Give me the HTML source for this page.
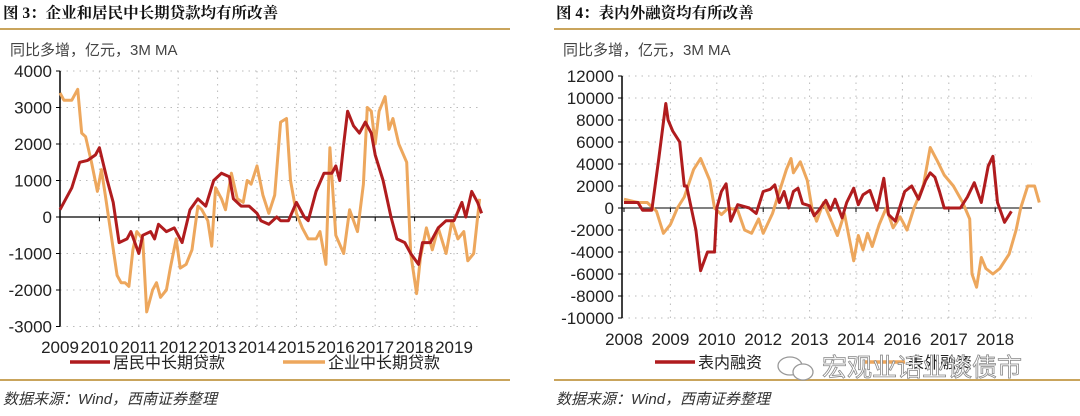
<!DOCTYPE html>
<html><head><meta charset="utf-8"><style>
html,body{margin:0;padding:0;background:#fff;width:1080px;height:416px;overflow:hidden}
svg{display:block;font-family:"Liberation Sans","Noto Sans CJK SC",sans-serif}
</style></head><body>
<svg id="c" width="1080" height="416" viewBox="0 0 1080 416"></svg>
<script>
// ---- Left chart data (图3) ----
const leftYears=["2009","2010","2011","2012","2013","2014","2015","2016","2017","2018","2019"];
const leftTicks=[4000,3000,2000,1000,0,-1000,-2000,-3000];
const hhT=[2009.0,2009.3,2009.5,2009.7,2009.9,2010.0,2010.2,2010.35,2010.5,2010.7,2010.8,2011.0,2011.1,2011.3,2011.4,2011.5,2011.7,2011.9,2012.1,2012.3,2012.5,2012.7,2012.9,2013.1,2013.3,2013.4,2013.6,2013.8,2014.0,2014.1,2014.3,2014.5,2014.6,2014.8,2015.0,2015.2,2015.3,2015.5,2015.7,2015.9,2016.0,2016.1,2016.2,2016.3,2016.45,2016.6,2016.75,2016.9,2017.0,2017.2,2017.4,2017.55,2017.75,2017.9,2018.1,2018.2,2018.4,2018.6,2018.8,2019.0,2019.2,2019.3,2019.45,2019.6,2019.7];
const hhV=[200,800,1500,1550,1700,1900,1000,400,-700,-600,-400,-1000,-500,-400,-600,-200,-400,-300,-700,200,500,300,1000,1200,1100,500,300,300,100,-100,-200,0,-100,-100,400,0,-100,700,1200,1200,1400,1000,2000,2900,2500,2300,2600,2300,1700,1000,0,-600,-700,-1000,-1300,-700,-700,-300,-100,-100,400,0,700,400,100];
const qyT=[2009.0,2009.1,2009.3,2009.45,2009.55,2009.65,2009.8,2009.95,2010.05,2010.15,2010.3,2010.45,2010.55,2010.65,2010.75,2010.85,2010.95,2011.1,2011.2,2011.35,2011.45,2011.55,2011.7,2011.8,2011.95,2012.05,2012.2,2012.35,2012.5,2012.6,2012.75,2012.85,2012.95,2013.1,2013.2,2013.35,2013.5,2013.65,2013.75,2013.85,2014.0,2014.15,2014.3,2014.45,2014.6,2014.75,2014.85,2015.0,2015.15,2015.3,2015.5,2015.6,2015.75,2015.85,2016.0,2016.2,2016.35,2016.55,2016.7,2016.8,2016.9,2017.0,2017.1,2017.25,2017.35,2017.45,2017.6,2017.8,2017.9,2018.05,2018.15,2018.3,2018.45,2018.6,2018.8,2018.95,2019.1,2019.25,2019.35,2019.5,2019.65];
const qyV=[3400,3200,3200,3500,2300,2200,1500,700,1300,600,-500,-1600,-1800,-1800,-1900,-900,-400,-600,-2600,-2000,-1800,-2200,-2000,-1400,-600,-1400,-1300,-900,300,200,-100,-800,800,500,200,1200,500,400,1000,900,1400,600,100,600,2600,2700,1000,100,-300,-600,-600,-400,-1300,1900,-500,-1000,200,-400,900,3000,2900,2000,2900,3300,2400,2700,2000,1500,-1000,-2100,-1100,-300,-900,-300,-1000,-100,-600,-400,-1200,-1000,500];
// ---- Right chart data (图4) ----
const rightLabels=["2008","2009","2010","2012","2013","2014","2016","2017","2018"];
const rightTicks=[12000,10000,8000,6000,4000,2000,0,-2000,-4000,-6000,-8000,-10000];
const bnT=[0,0.3,0.4,0.6,0.75,0.9,0.95,1.05,1.2,1.3,1.35,1.55,1.65,1.8,1.95,2.0,2.1,2.2,2.3,2.45,2.7,2.85,3.0,3.15,3.25,3.35,3.45,3.55,3.65,3.75,3.85,4.0,4.1,4.2,4.35,4.45,4.55,4.7,4.8,4.95,5.05,5.15,5.3,5.45,5.6,5.7,5.85,6.05,6.2,6.35,6.5,6.6,6.7,6.8,6.9,7.1,7.25,7.4,7.55,7.7,7.85,7.95,8.05,8.2,8.35];
const bnV=[500,500,-200,-200,4500,9500,8000,7000,6000,2000,2000,-2000,-5700,-4000,-4000,0,1500,2200,-1200,300,0,-500,1500,1700,2100,500,1500,0,1500,1800,400,200,-700,-200,700,-200,800,-900,500,1800,300,1200,1600,-200,2700,-600,-1200,1500,2000,800,2500,3200,2800,1500,0,0,0,1000,2300,500,3800,4700,500,-1300,-300];
const bwT=[0,0.3,0.5,0.7,0.85,1.0,1.15,1.3,1.5,1.65,1.85,1.95,2.1,2.25,2.45,2.6,2.75,2.9,3.0,3.2,3.35,3.5,3.6,3.65,3.8,3.95,4.05,4.15,4.3,4.45,4.6,4.75,4.95,5.05,5.15,5.25,5.35,5.5,5.65,5.8,5.95,6.1,6.25,6.45,6.6,6.75,6.9,7.1,7.3,7.45,7.5,7.6,7.7,7.8,7.95,8.1,8.3,8.45,8.55,8.7,8.85,8.95];
const bwV=[800,500,500,-300,-2300,-1500,0,1000,3500,4500,2500,0,-600,0,-200,-2000,-2300,-1000,-2300,-500,1500,3500,4500,3200,4200,2500,0,-1200,500,-1000,-2500,-500,-4800,-2500,-3800,-2300,-3500,-1500,0,-1800,-800,-2000,0,2000,5500,4300,3000,2000,500,-1000,-6000,-7200,-4500,-5500,-6000,-5500,-4200,-2000,0,2000,2000,500];

const NS="http://www.w3.org/2000/svg";
const svg=document.getElementById('c');
function mk(tag,attrs,parent){const e=document.createElementNS(NS,tag);for(const k in attrs)e.setAttribute(k,attrs[k]);(parent||svg).appendChild(e);return e;}
function txt(s,attrs){const e=mk('text',attrs);e.textContent=s;return e;}

// ---- Left axes ----
const Lx=t=>60+(t-2009)*39.4;
const Ly=v=>217-v*0.0365;
leftTicks.forEach(v=>{
  if(v!==0){const g=mk('line',{x1:60,x2:480,y1:Ly(v),y2:Ly(v),stroke:'#bbb','stroke-dasharray':'1.5 5'});
  }
  const tk=mk('line',{x1:56,x2:60,y1:Ly(v),y2:Ly(v),stroke:'#000'});
  
  const t=txt(String(v),{x:52,y:Ly(v)+6,'text-anchor':'end','font-size':17,fill:'#222'});
  
});
leftYears.forEach((y,i)=>{
  const x=Lx(2009+i);
  if(i>0){const g=mk('line',{x1:x,x2:x,y1:Ly(4000),y2:Ly(-3000),stroke:'#bbb','stroke-dasharray':'1.5 5'});
  }
  const tk=mk('line',{x1:x,x2:x,y1:Ly(0),y2:Ly(0)+4,stroke:'#000'});
  
  const t=txt(y,{x:x,y:353,'text-anchor':'middle','font-size':17,fill:'#222'});
  
});
let a=mk('line',{x1:60,x2:60,y1:Ly(4000),y2:Ly(-3000),stroke:'#000','stroke-width':1.5});

a=mk('line',{x1:60,x2:480,y1:Ly(0),y2:Ly(0),stroke:'#000','stroke-width':1.2});

function line(T,V,fx,fy,col,name){
  const d=T.map((t,i)=>(i?'L':'M')+fx(t).toFixed(1)+','+fy(V[i]).toFixed(1)).join('');
  const p=mk('path',{d:d,fill:'none',stroke:col,'stroke-width':3,'stroke-linejoin':'round'});
  
}
line(qyT,qyV,Lx,Ly,'#EDA75D','series-corporate-loans');
line(hhT,hhV,Lx,Ly,'#B01C1E','series-household-loans');

// ---- Right axes ----
const Rx=i=>624+i*46.4;
const Ry=v=>208-v*0.011;
rightTicks.forEach(v=>{
  if(v!==0){const g=mk('line',{x1:622,x2:1032,y1:Ry(v),y2:Ry(v),stroke:'#bbb','stroke-dasharray':'1.5 5'});
  }
  const tk=mk('line',{x1:618,x2:622,y1:Ry(v),y2:Ry(v),stroke:'#000'});
  
  const t=txt(String(v),{x:614,y:Ry(v)+6,'text-anchor':'end','font-size':17,fill:'#222'});
  
});
rightLabels.forEach((y,i)=>{
  const x=Rx(i);
  if(i>0){const g=mk('line',{x1:x,x2:x,y1:Ry(12000),y2:Ry(-10000),stroke:'#bbb','stroke-dasharray':'1.5 5'});
  }
  const tk=mk('line',{x1:x,x2:x,y1:Ry(0),y2:Ry(0)+4,stroke:'#000'});
  
  const t=txt(y,{x:x,y:345,'text-anchor':'middle','font-size':17,fill:'#222'});
  
});
a=mk('line',{x1:622,x2:622,y1:Ry(12000),y2:Ry(-10000),stroke:'#000','stroke-width':1.5});

a=mk('line',{x1:622,x2:1032,y1:Ry(0),y2:Ry(0),stroke:'#000','stroke-width':1});

line(bwT,bwV,Rx,Ry,'#EDA75D','series-off-balance-financing');
line(bnT,bnV,Rx,Ry,'#B01C1E','series-on-balance-financing');
</script>
<svg width="1080" height="416" style="position:absolute;left:0;top:0">
 <g font-family="'Liberation Serif','Noto Serif CJK SC',serif" font-weight="bold" font-size="15.5" fill="#111">
  <text x="3" y="18">图 3：企业和居民中长期贷款均有所改善</text>
  <text x="556" y="18">图 4：表内外融资均有所改善</text>
 </g>
 <rect x="0" y="28" width="510" height="2" fill="#C9A45C"/>
 <rect x="554" y="28" width="526" height="2" fill="#C9A45C"/>
 <rect x="0" y="379" width="510" height="2" fill="#C9A45C"/>
 <rect x="554" y="379" width="526" height="2" fill="#C9A45C"/>
 <g font-family="'Liberation Sans','Noto Sans CJK SC',sans-serif" font-size="15" fill="#444">
  <text x="10" y="55">同比多增，亿元，3M MA</text>
  <text x="563" y="55">同比多增，亿元，3M MA</text>
 </g>
 <g font-family="'Liberation Sans','Noto Sans CJK SC',sans-serif" font-size="16" fill="#222">
  <line x1="70" x2="110" y1="362" y2="362" stroke="#B01C1E" stroke-width="3.5"/>
  <text x="113" y="368">居民中长期贷款</text>
  <line x1="283" x2="325" y1="362" y2="362" stroke="#EDA75D" stroke-width="3.5"/>
  <text x="328" y="368">企业中长期贷款</text>
  <line x1="655" x2="695" y1="362" y2="362" stroke="#B01C1E" stroke-width="3.5"/>
  <text x="698" y="368">表内融资</text>
  <line x1="865" x2="905" y1="362" y2="362" stroke="#EDA75D" stroke-width="3.5"/>
  <text x="908" y="368">表外融资</text>
 </g>
 <g>
  <ellipse cx="790" cy="366" rx="12" ry="9" fill="none" stroke="#999" stroke-width="1.3"/>
  <ellipse cx="803" cy="372" rx="10" ry="8" fill="#fff" stroke="#999" stroke-width="1.3"/>
  <text x="822" y="376" font-family="'Liberation Sans','Noto Sans CJK SC',sans-serif" font-size="25" fill="#fff" stroke="#888" stroke-width="0.8">宏观业话业谈债市</text>
 </g>
 <g font-family="'Liberation Sans','Noto Sans CJK SC',sans-serif" font-size="15" font-style="italic" fill="#333">
  <text x="3" y="404">数据来源：Wind，西南证券整理</text>
  <text x="556" y="404">数据来源：Wind，西南证券整理</text>
 </g>
</svg>
</body></html>
